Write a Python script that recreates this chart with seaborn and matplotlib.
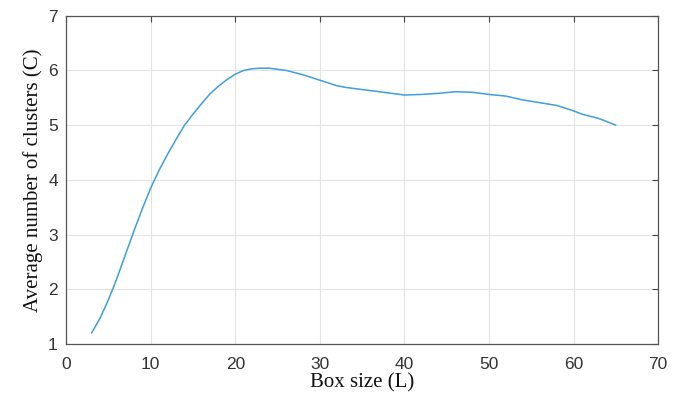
import numpy as np
import pandas as pd
import seaborn as sns
import matplotlib
matplotlib.use('Agg')
import matplotlib.pyplot as plt

# values
box_size = [3, 4, 4.8, 5.5, 6, 7, 8, 9, 10, 11, 12, 13, 14, 15, 16, 17, 18, 19, 20, 21, 22, 23, 24, 25, 26, 27,
            28, 29, 30, 31, 32, 33, 34, 36, 38, 40, 42, 44, 46, 48, 50, 52, 54, 56, 58, 60, 61, 62, 63, 64, 65]
avg_clusters = [1.2, 1.47, 1.74, 2.0, 2.2, 2.63, 3.06, 3.47, 3.85, 4.18, 4.47, 4.74, 5.0, 5.2, 5.39, 5.57, 5.71, 5.83,
                5.93, 6.0, 6.03, 6.04, 6.04, 6.02, 6.0, 5.96, 5.92, 5.87, 5.82, 5.77, 5.72, 5.69, 5.67, 5.63, 5.59,
                5.55, 5.56, 5.58, 5.61, 5.6, 5.56, 5.53, 5.46, 5.41, 5.36, 5.26, 5.2, 5.16, 5.12, 5.06, 5.0]
x_ticks = [0, 10, 20, 30, 40, 50, 60, 70]
y_ticks = [1, 2, 3, 4, 5, 6, 7]

df = pd.DataFrame({'L': box_size, 'C': avg_clusters})

sns.set_style('white')
plt.rcParams['font.family'] = ['Liberation Sans', 'DejaVu Sans']

fig = plt.figure(figsize=(6.82, 4.01), dpi=100)
ax = fig.add_axes([0.097, 0.142, 0.868, 0.819])
sns.lineplot(data=df, x='L', y='C', ax=ax, color='#3d9fdb', linewidth=1.1)

ax.set_xlim(0, 70)
ax.set_ylim(1, 7)
ax.set_xticks(x_ticks)
ax.set_yticks(y_ticks)
ax.grid(True, color='#e3e3e3', linewidth=0.8)
ax.tick_params(direction='in', length=4, width=0.8, color='#444444', labelsize=12.5,
               labelcolor='#333333', top=True, right=True, pad=6)
ax.tick_params(axis='x', pad=9)
for s in ax.spines.values():
    s.set_color('#555555')
    s.set_linewidth(0.9)

ax.set_xlabel('Box size (L)', fontfamily='Liberation Serif', fontsize=15, color='#111111', labelpad=1)
ax.set_ylabel('Average number of clusters (C)', fontfamily='Liberation Serif', fontsize=15,
              color='#111111', labelpad=4)

fig.savefig('out.png', dpi=100)
